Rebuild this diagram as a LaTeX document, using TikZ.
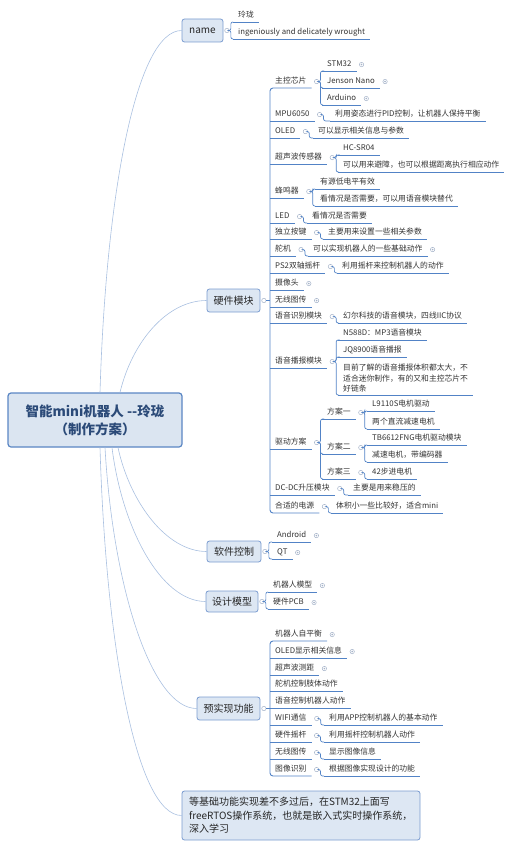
\documentclass[tikz,border=0pt]{standalone}
\usepackage{fontspec}
\setmainfont{Noto Sans CJK SC}

\definecolor{rootfill}{HTML}{DBE5F1}
\definecolor{rootline}{HTML}{5A86C4}
\definecolor{roottxt}{HTML}{2B4A78}
\definecolor{boxfill}{HTML}{DDE7F3}
\definecolor{boxline}{HTML}{7A9CD0}
\definecolor{ulblue}{HTML}{5283C6}
\definecolor{lnkblue}{HTML}{A9C0E0}
\definecolor{mkgray}{HTML}{A5B3C9}
\definecolor{txtgray}{HTML}{333333}

\newcommand{\fsleaf}{\fontsize{7.8}{10.5}\selectfont}
\newcommand{\fsbox}{\fontsize{10}{13.5}\selectfont}

\begin{document}
\begin{tikzpicture}[x=1pt,y=-1pt,
  leaf/.style={anchor=south west,inner xsep=5pt,inner ysep=2.5pt,text height=6pt,text depth=1.5pt,font=\fsleaf,text=txtgray},
  leafml/.style={anchor=south west,inner xsep=5pt,inner ysep=2.5pt,align=left,font=\fsleaf,text=txtgray},
  topic/.style={draw=boxline,fill=boxfill,rounded corners=2.5pt,line width=0.8pt,font=\fsbox,text=black!85,inner sep=0pt,minimum height=23pt},
  mk/.style={circle,draw=mkgray,fill=white,line width=0.5pt,inner sep=0pt,minimum size=4.4pt},
  mkc/.style={mk,path picture={\fill[mkgray] (path picture bounding box.center) circle (0.9pt);}},
  ul/.style={draw=ulblue,line width=0.9pt},
  br/.style={draw=ulblue,line width=0.7pt,rounded corners=2pt},
  lnk/.style={draw=lnkblue,line width=0.6pt},
]
\useasboundingbox (0,0) rectangle (512,848);

% ---------------- root and main topics ----------------
\node[draw=rootline,fill=rootfill,rounded corners=3pt,line width=1.2pt,minimum width=174pt,minimum height=54pt,
  align=center,font=\fontsize{13.5}{18}\selectfont\bfseries,text=roottxt] (root) at (95,420)
  {智能mini机器人 -{}-玲珑\\（制作方案）};
\node[topic,minimum width=41pt] (nm) at (202.5,30.5) {name};
\node[topic,minimum width=53pt] (hw) at (233.5,300.5) {硬件模块};
\node[topic,minimum width=54pt,minimum height=21pt] (sw) at (234,551.5) {软件控制};
\node[topic,minimum width=52pt,minimum height=21pt] (dm) at (232,601.5) {设计模型};
\node[topic,minimum width=63pt] (pf) at (228.5,708.5) {预实现功能};
\node[topic,minimum width=238pt,minimum height=49pt,inner xsep=7pt,text width=224pt,align=left] (note) at (301,815.5)
  {等基础功能实现差不多过后，在STM32上面写\\freeRTOS操作系统，也就是嵌入式实时操作系统，\\深入学习};

\draw[lnk] ([xshift=5pt]root.north) .. controls +(6,-200) and +(-45,0) .. (nm.west);
\draw[lnk] ([xshift=25pt]root.north) .. controls +(12,-50) and +(-40,0) .. (hw.west);
\draw[lnk] ([xshift=23pt]root.south) .. controls +(12,55) and +(-40,0) .. (sw.west);
\draw[lnk] ([xshift=17pt]root.south) .. controls +(10,80) and +(-45,0) .. (dm.west);
\draw[lnk] ([xshift=10pt]root.south) .. controls +(8,140) and +(-45,0) .. (pf.west);
\draw[lnk] ([xshift=5pt]root.south) .. controls +(6,200) and +(-45,0) .. (note.west);

\foreach \t in {nm,hw,sw,dm,pf} \node[mk] (\t-m) at ([xshift=3.5pt]\t.east) {};

% ---------------- name ----------------
\node[leaf] (n1) at (233,22) {玲珑};
\node[leaf] (n2) at (233,39) {ingeniously and delicately wrought};

% ---------------- hardware ----------------
\node[leaf] (h1) at (270,88) {主控芯片};
\node[leaf] (s1) at (322,71) {STM32};
\node[leaf] (s2) at (322,88) {Jenson Nano};
\node[leaf] (s3) at (322,105) {Arduino};
\node[leaf] (h2) at (270,121) {MPU6050};
\node[leaf] (h2a) at (330,121) {利用姿态进行PID控制，让机器人保持平衡};
\node[leaf] (h3) at (270,138) {OLED};
\node[leaf] (h3a) at (313,138) {可以显示相关信息与参数};
\node[leaf] (h4) at (270,164) {超声波传感器};
\node[leaf] (h4a) at (338,155) {HC-SR04};
\node[leaf] (h4b) at (338,172) {可以用来避障，也可以根据距离执行相应动作};
\node[leaf] (h5) at (270,198) {蜂鸣器};
\node[leaf] (h5a) at (315,189) {有源低电平有效};
\node[leaf] (h5b) at (315,206) {看情况是否需要，可以用语音模块替代};
\node[leaf] (h6) at (270,223) {LED};
\node[leaf] (h6a) at (307,223) {看情况是否需要};
\node[leaf] (h7) at (270,239) {独立按键};
\node[leaf] (h7a) at (323,239) {主要用来设置一些相关参数};
\node[leaf] (h8) at (270,256) {舵机};
\node[leaf] (h8a) at (308,256) {可以实现机器人的一些基础动作};
\node[leaf] (h9) at (270,273) {PS2双轴摇杆};
\node[leaf] (h9a) at (337,273) {利用摇杆来控制机器人的动作};
\node[leaf] (h10) at (270,290) {摄像头};
\node[leaf] (h11) at (270,307) {无线图传};
\node[leaf] (h12) at (270,323) {语音识别模块};
\node[leaf] (h12a) at (338,323) {幻尔科技的语音模块，四线IIC协议};
\node[leaf] (h13) at (270,368) {语音播报模块};
\node[leaf] (h13a) at (338,340) {N588D：MP3语音模块};
\node[leaf] (h13b) at (338,357) {JQ8900语音播报};
\node[leafml] (h13c) at (338,395) {目前了解的语音播报体积都太大，不\\适合迷你制作，有的又和主控芯片不\\好链条};
\node[leaf] (h14) at (270,449) {驱动方案};
\node[leaf] (d1) at (322,419) {方案一};
\node[leaf] (d1a) at (367,411) {L9110S电机驱动};
\node[leaf] (d1b) at (367,429) {两个直流减速电机};
\node[leaf] (d2) at (322,454) {方案二};
\node[leaf] (d2a) at (367,445) {TB6612FNG电机驱动模块};
\node[leaf] (d2b) at (367,462) {减速电机，带编码器};
\node[leaf] (d3) at (322,479) {方案三};
\node[leaf] (d3a) at (367,479) {42步进电机};
\node[leaf] (h15) at (270,495) {DC-DC升压模块};
\node[leaf] (h15a) at (348,495) {主要是用来稳压的};
\node[leaf] (h16) at (270,513) {合适的电源};
\node[leaf] (h16a) at (331,513) {体积小一些比较好，适合mini};

% ---------------- software / design ----------------
\node[leaf] (a1) at (272,542) {Android};
\node[leaf] (a2) at (272,559) {QT};
\node[leaf] (m1) at (268,592) {机器人模型};
\node[leaf] (m2) at (268,609) {硬件PCB};

% ---------------- planned functions ----------------
\node[leaf] (p1) at (270,641) {机器人自平衡};
\node[leaf] (p2) at (270,658) {OLED显示相关信息};
\node[leaf] (p3) at (270,675) {超声波测距};
\node[leaf] (p4) at (270,691) {舵机控制肢体动作};
\node[leaf] (p5) at (270,708) {语音控制机器人动作};
\node[leaf] (p6) at (270,725) {WIFI通信};
\node[leaf] (p6a) at (324,725) {利用APP控制机器人的基本动作};
\node[leaf] (p7) at (270,742) {硬件摇杆};
\node[leaf] (p7a) at (324,742) {利用摇杆控制机器人动作};
\node[leaf] (p8) at (270,759) {无线图传};
\node[leaf] (p8a) at (324,759) {显示图像信息};
\node[leaf] (p9) at (270,776) {图像识别};
\node[leaf] (p9a) at (324,776) {根据图像实现设计的功能};

% underlines, spines
\foreach \n in {n1,n2,s1,s2,s3,h2,h2a,h3,h3a,h4,h4a,h4b,h5,h5a,h5b,h6,h6a,h7,h7a,h8,h8a,h9,h9a,
  h10,h11,h12,h12a,h13,h13a,h13b,h13c,h14,d1,d1a,d1b,d2,d2a,d2b,d3,d3a,h15,h15a,h16a,
  a1,a2,m1,m2,p2,p3,p4,p5,p6,p6a,p7,p7a,p8,p8a,p9a}
  \draw[ul] (\n.south west) -- (\n.south east);
\draw[ul,rounded corners=3pt] (h1.south east) -- (h1.south west) -- (h16.south west) -- (h16.south east);
\draw[ul,rounded corners=3pt] (p1.south east) -- (p1.south west) -- (p9.south west) -- (p9.south east);
\draw[ul] (hw-m.east) -- (hw-m.east -| h1.south west);
\draw[ul] (pf-m.east) -- (pf-m.east -| p1.south west);

% markers
\foreach \n in {h1,h2,h3,h4,h5,h6,h7,h8,h9,h12,h13,h14,d1,d2,d3,h15,h16,p6,p7,p8,p9}
  \node[mk] (\n-m) at ([xshift=5pt]\n.east) {};
\foreach \n in {s1,s2,s3,h8a,h10,h11,a1,a2,m1,m2,p1,p2,p3}
  \node[mkc] (\n-m) at ([xshift=5pt]\n.east) {};

% brackets to children
\foreach \p/\c in {nm/n1,nm/n2,h1/s1,h1/s2,h1/s3,h2/h2a,h3/h3a,h4/h4a,h4/h4b,h5/h5a,h5/h5b,h6/h6a,
  h7/h7a,h8/h8a,h9/h9a,h12/h12a,h13/h13a,h13/h13b,h13/h13c,h14/d1,h14/d2,h14/d3,
  d1/d1a,d1/d1b,d2/d2a,d2/d2b,d3/d3a,h15/h15a,h16/h16a,sw/a1,sw/a2,dm/m1,dm/m2,
  p6/p6a,p7/p7a,p8/p8a,p9/p9a}
  \draw[br] (\p-m.east) -- ++(1.5pt,0) |- (\c.south west);
\end{tikzpicture}
\end{document}
